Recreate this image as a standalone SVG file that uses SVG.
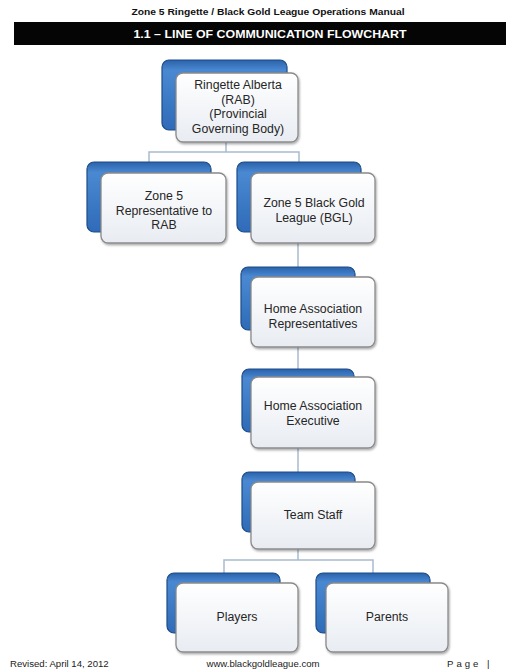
<svg xmlns="http://www.w3.org/2000/svg" width="522" height="672" viewBox="0 0 522 672">
<defs>
<linearGradient id="blueG" x1="0" y1="0" x2="0" y2="1">
<stop offset="0" stop-color="#2a62aa"/>
<stop offset="0.15" stop-color="#4a89d2"/>
<stop offset="1" stop-color="#2f6bb8"/>
</linearGradient>
<linearGradient id="whiteG" x1="0" y1="0" x2="0" y2="1">
<stop offset="0" stop-color="#ffffff"/>
<stop offset="1" stop-color="#e8ecf2"/>
</linearGradient>
<filter id="sh" x="-10%" y="-10%" width="130%" height="130%">
<feDropShadow dx="1" dy="1.5" stdDeviation="1.2" flood-color="#000" flood-opacity="0.35"/>
</filter>
</defs>
<style>
.back{fill:url(#blueG);stroke:#1d4b86;stroke-width:1.2}
.front{fill:url(#whiteG);stroke:#8a8a8a;stroke-width:1.3;filter:url(#sh)}
.lbl{font-family:"Liberation Sans",Arial,sans-serif;font-size:12.3px;fill:#262626;text-anchor:middle}
.conn{fill:none;stroke:#a9bad0;stroke-width:1.5}
.hdr{font-family:"Liberation Sans",Arial,sans-serif;font-weight:bold;text-anchor:middle}
.ftr{font-family:"Liberation Sans",Arial,sans-serif;font-size:9.6px;fill:#222}
</style>
<rect width="522" height="672" fill="#ffffff"/>
<g id="header">
<text class="hdr" x="268" y="15" font-size="9" fill="#111" textLength="273" lengthAdjust="spacingAndGlyphs">Zone 5 Ringette / Black Gold League Operations Manual</text>
<rect x="14" y="22" width="492" height="23" fill="#050505"/>
<text class="hdr" x="270" y="38" font-size="11" fill="#ffffff" textLength="273" lengthAdjust="spacingAndGlyphs">1.1 – LINE OF COMMUNICATION FLOWCHART</text>
</g>
<g id="connectors">
<path class="conn" d="M226,142 V152 M149,162 V152 H299 V162"/>
<path class="conn" d="M298,243 V267 M298,347 V369 M298,448 V472"/>
<path class="conn" d="M298,549 V560 M224,573 V560 H373 V573"/>
</g>
<g id="n1">
<rect class="back" x="162" y="60" width="125" height="70" rx="7"/>
<rect class="front" x="176" y="73" width="122" height="69" rx="7"/>
<text class="lbl"><tspan x="238" y="89">Ringette Alberta</tspan><tspan x="238" y="103.5">(RAB)</tspan><tspan x="238" y="118">(Provincial</tspan><tspan x="238" y="132.5">Governing Body)</tspan></text>
</g>
<g id="n2">
<rect class="back" x="87" y="162" width="124" height="70" rx="7"/>
<rect class="front" x="101" y="173" width="125" height="70" rx="7"/>
<text class="lbl"><tspan x="164" y="200">Zone 5</tspan><tspan x="164" y="214.5">Representative to</tspan><tspan x="164" y="229">RAB</tspan></text>
</g>
<g id="n3">
<rect class="back" x="237" y="162" width="124" height="70" rx="7"/>
<rect class="front" x="251" y="173" width="124" height="70" rx="7"/>
<text class="lbl"><tspan x="314" y="207">Zone 5 Black Gold</tspan><tspan x="314" y="221.5">League (BGL)</tspan></text>
</g>
<g id="n4">
<rect class="back" x="241" y="267" width="114" height="63" rx="7"/>
<rect class="front" x="251" y="277" width="124" height="70" rx="7"/>
<text class="lbl"><tspan x="313" y="313">Home Association</tspan><tspan x="313" y="327.5">Representatives</tspan></text>
</g>
<g id="n5">
<rect class="back" x="242" y="369" width="112" height="63" rx="7"/>
<rect class="front" x="251" y="377" width="124" height="71" rx="7"/>
<text class="lbl"><tspan x="313" y="410">Home Association</tspan><tspan x="313" y="424.5">Executive</tspan></text>
</g>
<g id="n6">
<rect class="back" x="242" y="472" width="113" height="60" rx="7"/>
<rect class="front" x="251" y="482" width="124" height="67" rx="7"/>
<text class="lbl" x="313" y="519">Team Staff</text>
</g>
<g id="n7">
<rect class="back" x="167" y="573" width="113" height="60" rx="7"/>
<rect class="front" x="176" y="583" width="122" height="69" rx="7"/>
<text class="lbl" x="237" y="621">Players</text>
</g>
<g id="n8">
<rect class="back" x="316" y="573" width="114" height="60" rx="7"/>
<rect class="front" x="326" y="583" width="122" height="69" rx="7"/>
<text class="lbl" x="387" y="621">Parents</text>
</g>
<g id="footer">
<text class="ftr" x="10" y="667">Revised: April 14, 2012</text>
<text class="ftr" x="263" y="667" text-anchor="middle">www.blackgoldleague.com</text>
<text class="ftr" x="447" y="667" fill="#8a8a8a" letter-spacing="3">Page |</text>
</g>
</svg>
